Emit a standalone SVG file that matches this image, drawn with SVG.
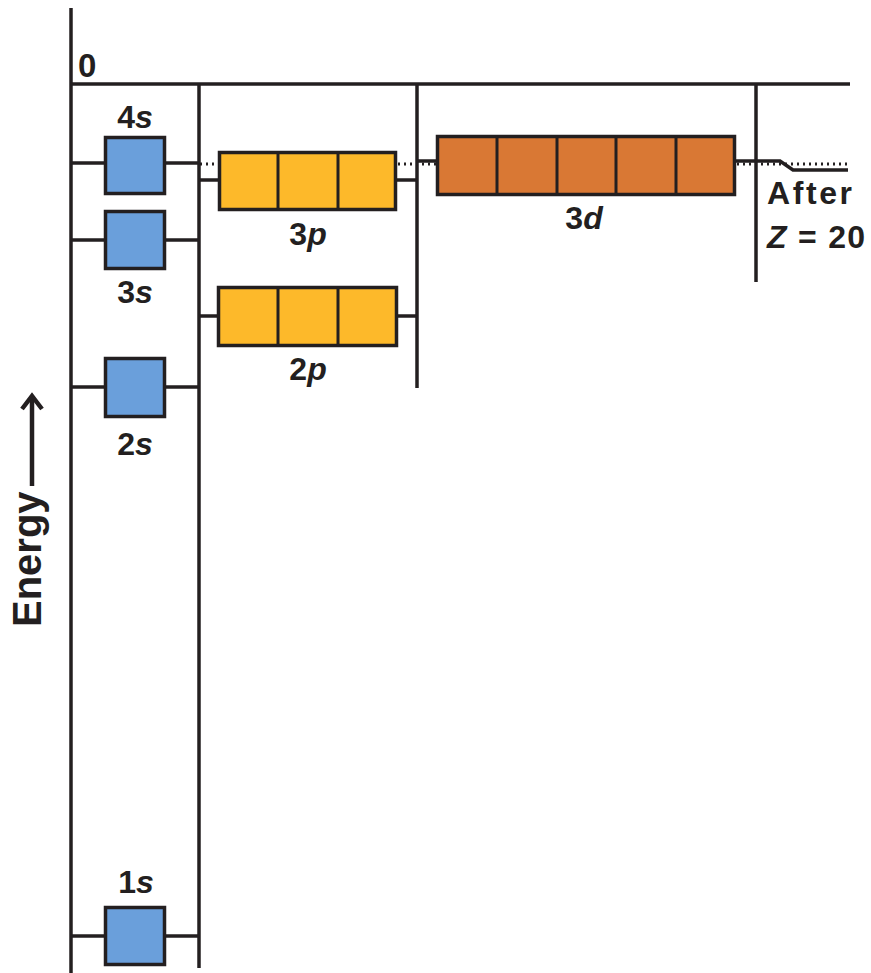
<svg xmlns="http://www.w3.org/2000/svg" width="871" height="973" viewBox="0 0 871 973">
<style>
.ln{stroke:#231f20;stroke-width:3.5;fill:none}
.dot{stroke:#231f20;stroke-width:3;stroke-dasharray:2 4;fill:none}
.s{fill:#6a9fdb;stroke:#231f20;stroke-width:3.5}
.p{fill:#fdb92a;stroke:#231f20;stroke-width:3.5}
.d{fill:#d97834;stroke:#231f20;stroke-width:3.5}
.div{stroke:#231f20;stroke-width:3}
.t{font-family:"Liberation Sans",Arial,sans-serif;font-weight:bold;font-size:32px;fill:#231f20}
.i{font-style:italic}
</style>
<rect width="871" height="973" fill="#ffffff"/>
<g id="connectors">
<line class="ln" x1="71" y1="8" x2="71" y2="973"/>
<line class="ln" x1="199" y1="84" x2="199" y2="968"/>
<line class="ln" x1="70" y1="84" x2="850" y2="84"/>
<line class="ln" x1="417" y1="84" x2="417" y2="388"/>
<line class="ln" x1="756" y1="84" x2="756" y2="282"/>
<path class="ln" d="M71 163H105M165 163H199"/>
<path class="ln" d="M71 240H105M165 240H199"/>
<path class="ln" d="M71 387H105M165 387H199"/>
<path class="ln" d="M71 936H105M165 936H199"/>
<path class="ln" d="M199 180H219M396 180H417"/>
<path class="ln" d="M199 316H218M397 316H417"/>
<path class="ln" d="M417 161H437M735 161H780L793 170H848"/>
<path class="dot" d="M200 164H218M398 164H436M737 164H848"/>
</g>
<g id="axis-label">
<text class="t" style="font-size:40px" transform="translate(41,627) rotate(-90)">Energy</text>
<line class="ln" style="stroke-width:4.5" x1="32" y1="486" x2="32" y2="397"/>
<polyline class="ln" style="stroke-width:4.5" points="22,409 32,396 42,409"/>
</g>
<g id="zero"><text class="t" style="font-size:33px" x="78" y="77">0</text></g>
<g id="orb-4s">
<rect class="s" x="105.5" y="137.5" width="59" height="56"/>
<text class="t" x="135" y="128" text-anchor="middle">4<tspan class="i">s</tspan></text>
</g>
<g id="orb-3s">
<rect class="s" x="105.5" y="211.5" width="59" height="57"/>
<text class="t" x="135" y="303" text-anchor="middle">3<tspan class="i">s</tspan></text>
</g>
<g id="orb-2s">
<rect class="s" x="105.5" y="358.5" width="59" height="58"/>
<text class="t" x="135" y="455" text-anchor="middle">2<tspan class="i">s</tspan></text>
</g>
<g id="orb-1s">
<rect class="s" x="105.5" y="907.5" width="59" height="57"/>
<text class="t" x="136" y="893" text-anchor="middle">1<tspan class="i">s</tspan></text>
</g>
<g id="orb-3p">
<rect class="p" x="219.5" y="152.5" width="176" height="57"/>
<line class="div" x1="278" y1="152" x2="278" y2="210"/>
<line class="div" x1="338" y1="152" x2="338" y2="210"/>
<text class="t" x="308" y="245" text-anchor="middle">3<tspan class="i">p</tspan></text>
</g>
<g id="orb-2p">
<rect class="p" x="218.5" y="287.5" width="178" height="58"/>
<line class="div" x1="278" y1="287" x2="278" y2="346"/>
<line class="div" x1="338" y1="287" x2="338" y2="346"/>
<text class="t" x="308" y="380" text-anchor="middle">2<tspan class="i">p</tspan></text>
</g>
<g id="orb-3d">
<rect class="d" x="437.5" y="136.5" width="297" height="58"/>
<line class="div" x1="497" y1="136" x2="497" y2="195"/>
<line class="div" x1="557" y1="136" x2="557" y2="195"/>
<line class="div" x1="616" y1="136" x2="616" y2="195"/>
<line class="div" x1="676" y1="136" x2="676" y2="195"/>
<text class="t" x="584" y="229" text-anchor="middle">3<tspan class="i">d</tspan></text>
</g>
<g id="after-note">
<text class="t" x="767" y="204" textLength="85" lengthAdjust="spacing">After</text>
<text class="t" x="767" y="248" textLength="98" lengthAdjust="spacing"><tspan class="i">Z</tspan> = 20</text>
</g>
</svg>
